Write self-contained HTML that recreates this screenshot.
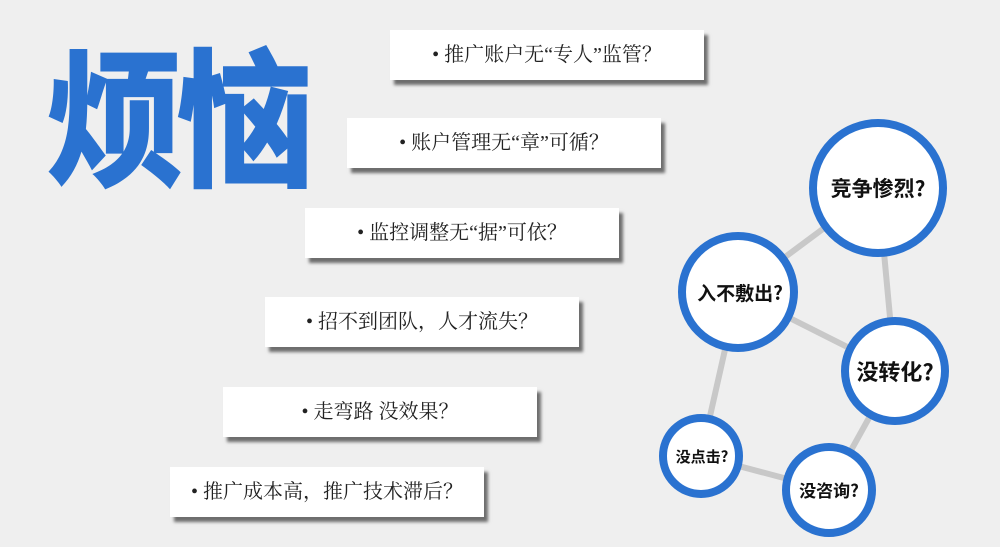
<!DOCTYPE html>
<html><head><meta charset="utf-8"><style>
body{margin:0;width:1000px;height:547px;background:#efefef;position:relative;overflow:hidden;font-family:"Liberation Serif","Noto Serif CJK SC",serif}
.t{position:absolute;left:46px;top:36px;font-family:"Noto Sans CJK SC",sans-serif;font-weight:900;font-size:150px;color:#2a72d0;letter-spacing:-8px;transform:scaleX(0.92);transform-origin:left top;line-height:1}
.b{position:absolute;width:314px;height:50px;background:#fff;box-shadow:4px 5px 3px #6e6e6e;font-size:20px;line-height:50px;text-align:center;color:#222}
</style></head><body>
<div class="t">烦恼</div>
<div class="b" style="left:390px;top:30px">• 推广账户无“专人”监管？</div>
<div class="b" style="left:347px;top:118px">• 账户管理无“章”可循？</div>
<div class="b" style="left:305px;top:208px">• 监控调整无“据”可依？</div>
<div class="b" style="left:265px;top:297px">• 招不到团队，人才流失？</div>
<div class="b" style="left:223px;top:387px">• 走弯路  没效果？</div>
<div class="b" style="left:170px;top:467px">• 推广成本高，推广技术滞后？</div>
<svg width="1000" height="547" style="position:absolute;left:0;top:0" font-family="'Noto Sans CJK SC',sans-serif" font-weight="bold" text-anchor="middle">
<g stroke="#c8c8c8" stroke-width="6">
<line x1="878" y1="188" x2="738" y2="292"/><line x1="878" y1="188" x2="895" y2="371"/>
<line x1="738" y1="292" x2="895" y2="371"/><line x1="738" y1="292" x2="701" y2="456"/>
<line x1="701" y1="456" x2="829" y2="490"/><line x1="829" y1="490" x2="895" y2="371"/>
</g>
<g fill="#fff" stroke="#2a72d0" stroke-width="8">
<circle cx="878" cy="188" r="65"/><circle cx="738" cy="292" r="56"/>
<circle cx="895" cy="371" r="50"/><circle cx="701" cy="456" r="38"/><circle cx="829" cy="490" r="43"/>
</g>
<g fill="#111">
<text x="878" y="196" font-size="21">竞争惨烈?</text>
<text x="740" y="300" font-size="19">入不敷出?</text>
<text x="895" y="380" font-size="22">没转化?</text>
<text x="702" y="462" font-size="15">没点击?</text>
<text x="829" y="497" font-size="17">没咨询?</text>
</g>
</svg>
</body></html>
